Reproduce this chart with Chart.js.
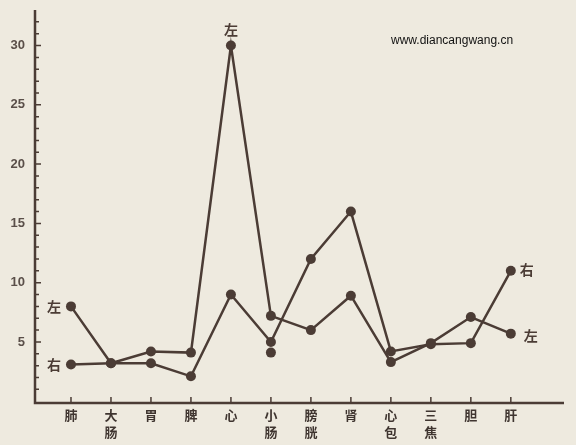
<!DOCTYPE html>
<html lang="zh">
<head>
  <meta charset="UTF-8">
  <title>左右经络测定值</title>
  <script src="https://cdn.jsdelivr.net/npm/chart.js"></script>
  <style>
    body {
      margin: 0;
      background-color: #eeeadf;
    }
    #wrap {
      width: 576px;
      height: 445px;
    }
  </style>
</head>
<body>
  <div id="wrap"><canvas id="myChart" width="576" height="445"></canvas></div>

  <script>
    // 经络名称（两字的竖排）
    var categories = [['肺'], ['大', '肠'], ['胃'], ['脾'], ['心'], ['小', '肠'], ['膀', '胱'], ['肾'], ['心', '包'], ['三', '焦'], ['胆'], ['肝']];
    var leftValues = [8, 3.2, 4.2, 4.1, 30, 7.2, 6.0, 8.9, 3.3, 4.9, 7.1, 5.7];
    var rightValues = [3.1, 3.2, 3.2, 2.1, 9.0, 5.0, 12.0, 16.0, 4.2, 4.8, 4.9, 11.0];
    var extraDot = [{ x: 5, y: 4.1 }];
    var yTicks = [5, 10, 15, 20, 25, 30];

    var ink = '#4b3c35';

    function toPoints(arr) {
      return arr.map(function (v, i) { return { x: i, y: v }; });
    }

    var axesPlugin = {
      id: 'axesPlugin',
      afterDraw: function (chart) {
        var ctx = chart.ctx;
        var xs = chart.scales.x, ys = chart.scales.y;
        var a = chart.chartArea;
        ctx.save();
        ctx.strokeStyle = ink;
        ctx.lineWidth = 2.5;
        ctx.beginPath();
        ctx.moveTo(a.left, a.top);
        ctx.lineTo(a.left, a.bottom);
        ctx.lineTo(a.right, a.bottom);
        ctx.stroke();

        // y 刻度：每 1 一个小刻度
        ctx.lineWidth = 1.5;
        ctx.beginPath();
        for (var v = 1; v <= 32; v++) {
          var py = ys.getPixelForValue(v);
          var len = (v % 5 === 0) ? 6 : 4;
          ctx.moveTo(a.left, py);
          ctx.lineTo(a.left + len, py);
        }
        // x 刻度
        for (var i = 0; i < categories.length; i++) {
          var px = xs.getPixelForValue(i);
          ctx.moveTo(px, a.bottom);
          ctx.lineTo(px, a.bottom - 6);
        }
        ctx.stroke();

        // 左 / 右 标注
        ctx.fillStyle = ink;
        ctx.font = 'bold 14px "Noto Sans CJK SC"';
        ctx.textAlign = 'center';
        ctx.textBaseline = 'middle';
        var last = categories.length - 1;
        ctx.fillText('左', xs.getPixelForValue(0) - 17, ys.getPixelForValue(leftValues[0]));
        ctx.fillText('右', xs.getPixelForValue(0) - 17, ys.getPixelForValue(rightValues[0]));
        ctx.fillText('左', xs.getPixelForValue(4), ys.getPixelForValue(leftValues[4]) - 16);
        ctx.fillText('右', xs.getPixelForValue(last) + 16, ys.getPixelForValue(rightValues[last]) - 1);
        ctx.fillText('左', xs.getPixelForValue(last) + 20, ys.getPixelForValue(leftValues[last]) + 2);

        // 水印
        ctx.fillStyle = '#111111';
        ctx.font = '12px "Liberation Sans"';
        ctx.textAlign = 'left';
        ctx.fillText('www.diancangwang.cn', 391, 41);
        ctx.restore();
      }
    };

    var ctx = document.getElementById('myChart').getContext('2d');
    var myChart = new Chart(ctx, {
      type: 'line',
      data: {
        datasets: [
          {
            label: '左',
            data: toPoints(leftValues),
            borderColor: ink,
            backgroundColor: ink,
            borderWidth: 2.5,
            pointRadius: 5,
            pointBackgroundColor: ink,
            pointBorderWidth: 0,
            tension: 0
          },
          {
            label: '右',
            data: toPoints(rightValues),
            borderColor: ink,
            backgroundColor: ink,
            borderWidth: 2.5,
            pointRadius: 5,
            pointBackgroundColor: ink,
            pointBorderWidth: 0,
            tension: 0
          },
          {
            label: '',
            data: extraDot,
            showLine: false,
            pointRadius: 5,
            pointBackgroundColor: ink,
            pointBorderWidth: 0
          }
        ]
      },
      options: {
        responsive: false,
        animation: false,
        layout: { autoPadding: false, padding: { top: 10, right: 12, left: 0, bottom: 0 } },
        plugins: {
          legend: { display: false },
          tooltip: { enabled: false }
        },
        scales: {
          x: {
            type: 'linear',
            min: -0.9,
            max: 12.33,
            grid: { display: false, drawTicks: false },
            border: { display: false },
            afterBuildTicks: function (scale) {
              scale.ticks = categories.map(function (c, i) { return { value: i }; });
            },
            afterFit: function (scale) { scale.height = 42; },
            ticks: {
              autoSkip: false,
              maxRotation: 0,
              padding: 3,
              color: '#3f3530',
              font: { family: '"Noto Sans CJK SC"', size: 13, weight: 'bold', lineHeight: 1.35 },
              callback: function (v) { return categories[v]; }
            }
          },
          y: {
            min: -0.15,
            max: 33,
            grid: { display: false, drawTicks: false },
            border: { display: false },
            afterBuildTicks: function (scale) {
              scale.ticks = yTicks.map(function (v) { return { value: v }; });
            },
            afterFit: function (scale) {
              scale.width = 35;
              scale.paddingTop = 0;
            },
            ticks: {
              padding: 10,
              color: '#5a4f49',
              font: { family: '"Liberation Sans"', size: 13, weight: 'bold' }
            }
          }
        }
      },
      plugins: [axesPlugin]
    });
  </script>
</body>
</html>
